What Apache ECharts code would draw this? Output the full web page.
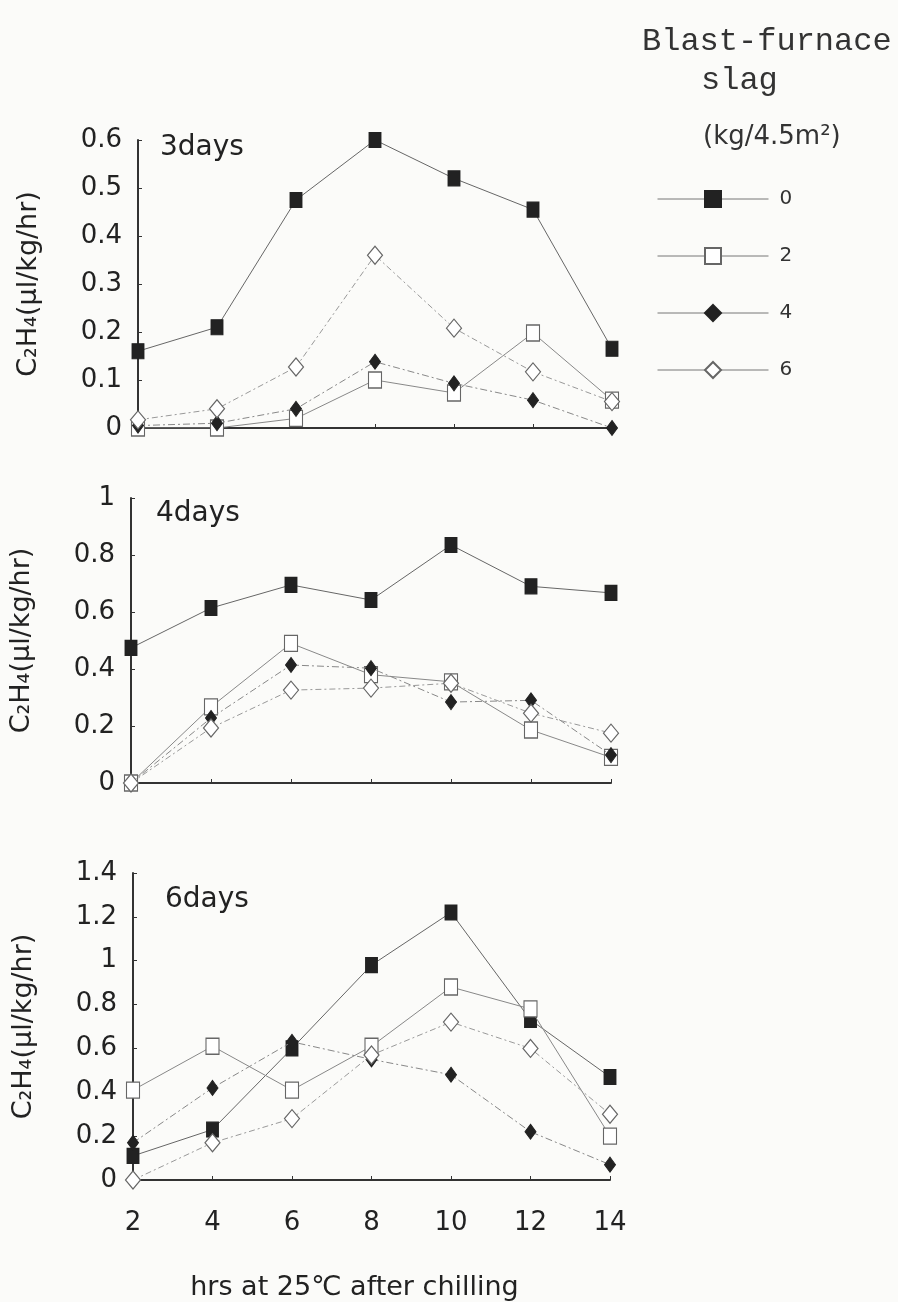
<!DOCTYPE html>
<html>
<head>
<meta charset="utf-8">
<script src="https://cdn.jsdelivr.net/npm/echarts@6/dist/echarts.min.js"></script>
<style>
  html, body { margin: 0; padding: 0; background: #fbfbf9; }
  #chart { width: 898px; height: 1302px; }
</style>
</head>
<body>
<div id="chart"></div>
<script>
// hours after chilling (x axis)
const hours = [2, 4, 6, 8, 10, 12, 14]
// slag amounts (kg/4.5m2), legend names
const slagNames = ['0', '2', '4', '6']
const panelLabels = ['3days', '4days', '6days']

// 3 days
const d3Slag0 = [0.16, 0.21, 0.475, 0.6, 0.52, 0.455, 0.165]
const d3Slag2 = [0.0, 0.0, 0.02, 0.10, 0.073, 0.198, 0.058]
const d3Slag4 = [0.005, 0.01, 0.04, 0.138, 0.093, 0.058, 0.0]
const d3Slag6 = [0.017, 0.04, 0.127, 0.36, 0.208, 0.117, 0.055]
// 4 days
const d4Slag0 = [0.474, 0.614, 0.695, 0.642, 0.835, 0.69, 0.667]
const d4Slag2 = [0.0, 0.267, 0.49, 0.38, 0.355, 0.186, 0.09]
const d4Slag4 = [0.0, 0.228, 0.414, 0.403, 0.284, 0.29, 0.098]
const d4Slag6 = [0.0, 0.193, 0.326, 0.333, 0.35, 0.245, 0.175]
// 6 days
const d6Slag0 = [0.11, 0.23, 0.6, 0.98, 1.22, 0.73, 0.47]
const d6Slag2 = [0.41, 0.61, 0.41, 0.61, 0.88, 0.78, 0.2]
const d6Slag4 = [0.17, 0.42, 0.63, 0.55, 0.48, 0.22, 0.07]
const d6Slag6 = [0.0, 0.17, 0.28, 0.57, 0.72, 0.6, 0.3]

// y axis ranges per panel
const yMax = [0.6, 1, 1.4]
const yStep = [0.1, 0.2, 0.2]

const panelData = [
  [d3Slag0, d3Slag2, d3Slag4, d3Slag6],
  [d4Slag0, d4Slag2, d4Slag4, d4Slag6],
  [d6Slag0, d6Slag2, d6Slag4, d6Slag6]
]

const font = 'DejaVu Sans'
const grids = [
  { left: 138, top: 140, width: 474, height: 288 },
  { left: 130, top: 498, width: 481, height: 285 },
  { left: 133, top: 873, width: 477, height: 310 }
]

// marker look for each slag level
const markStyles = [
  { symbol: 'rect', symbolSize: [12, 15], itemStyle: { color: '#222', borderColor: '#222', borderWidth: 1 }, lineStyle: { color: '#666', width: 1, type: 'solid' } },
  { symbol: 'rect', symbolSize: [13, 16], itemStyle: { color: '#fff', borderColor: '#666', borderWidth: 1.2 }, lineStyle: { color: '#888', width: 1, type: 'solid' } },
  { symbol: 'diamond', symbolSize: [11, 15], itemStyle: { color: '#222', borderColor: '#222', borderWidth: 1 }, lineStyle: { color: '#888', width: 1, type: [7, 3, 2, 3] } },
  { symbol: 'diamond', symbolSize: [15, 18], itemStyle: { color: '#fff', borderColor: '#666', borderWidth: 1.2 }, lineStyle: { color: '#999', width: 1, type: [6, 3, 2, 3] } }
]

const xAxes = []
const yAxes = []
const series = []
const graphics = []

grids.forEach((g, i) => {
  const last = i === grids.length - 1
  xAxes.push({
    gridIndex: i,
    type: 'value',
    min: 2,
    max: 14,
    interval: 2,
    axisLine: { lineStyle: { color: '#333', width: 2 } },
    axisTick: { show: true, inside: true, length: 4, lineStyle: { color: '#333' } },
    splitLine: { show: false },
    axisLabel: { show: last, fontSize: 26, fontFamily: font, color: '#222', margin: 30 },
    name: last ? 'hrs at 25℃ after chilling' : '',
    nameLocation: 'middle',
    nameGap: 94,
    nameTextStyle: { fontSize: 27, fontFamily: font, color: '#222', padding: [0, 34, 0, 0] }
  })
  yAxes.push({
    gridIndex: i,
    type: 'value',
    min: 0,
    max: yMax[i],
    interval: yStep[i],
    axisLine: { show: true, lineStyle: { color: '#333', width: 2 } },
    axisTick: { show: true, inside: true, length: 4, lineStyle: { color: '#333' } },
    splitLine: { show: false },
    axisLabel: { fontSize: 26, fontFamily: font, color: '#222', margin: 16 },
    name: 'C₂H₄(μl/kg/hr)',
    nameLocation: 'middle',
    nameGap: 96,
    nameTextStyle: { fontSize: 27, fontFamily: font, color: '#222' }
  })
  panelData[i].forEach((vals, k) => {
    series.push({
      name: slagNames[k],
      type: 'line',
      xAxisIndex: i,
      yAxisIndex: i,
      data: hours.map((h, j) => [h, vals[j]]),
      symbol: markStyles[k].symbol,
      symbolSize: markStyles[k].symbolSize,
      showAllSymbol: true,
      itemStyle: markStyles[k].itemStyle,
      lineStyle: markStyles[k].lineStyle,
      z: 2 + k,
      animation: false
    })
  })
  graphics.push({
    type: 'text',
    left: g.left + [22, 26, 32][i],
    top: [134, 500, 886][i],
    style: { text: panelLabels[i], fontSize: 28, fontFamily: font, fill: '#222' }
  })
})

// legend title
graphics.push(
  { type: 'text', left: 642, top: 26, style: { text: 'Blast-furnace', fontSize: 32, fontFamily: 'Liberation Mono', fill: '#333' } },
  { type: 'text', left: 701, top: 65, style: { text: 'slag', fontSize: 32, fontFamily: 'Liberation Mono', fill: '#333' } },
  { type: 'text', left: 703, top: 124, style: { text: '(kg/4.5m²)', fontSize: 26, fontFamily: font, fill: '#333' } }
)

const chart = echarts.init(document.getElementById('chart'))
chart.setOption({
  backgroundColor: '#fbfbf9',
  animation: false,
  grid: grids,
  xAxis: xAxes,
  yAxis: yAxes,
  legend: {
    data: slagNames,
    orient: 'vertical',
    left: 652,
    top: 184,
    itemWidth: 111,
    itemHeight: 20,
    itemGap: 37,
    selectedMode: false,
    lineStyle: { type: 'solid', width: 1, color: '#777' },
    textStyle: { fontSize: 20, fontFamily: font, color: '#333', padding: [0, 0, 0, 6] }
  },
  graphic: graphics,
  series: series
})
</script>
</body>
</html>
